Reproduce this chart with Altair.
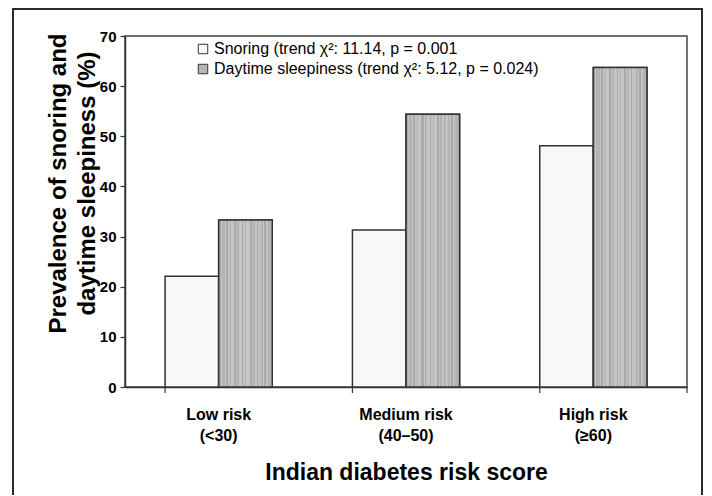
import altair as alt
import pandas as pd

# ---- data ----
categories = ["Low risk\n(<30)", "Medium risk\n(40–50)", "High risk\n(≥60)"]
series_names = [
    "Snoring (trend χ²: 11.14, p = 0.001",
    "Daytime sleepiness (trend χ²: 5.12, p = 0.024)",
]
snoring = [22.1, 31.3, 48.1]
daytime = [33.3, 54.4, 63.7]
y_ticks = [0, 10, 20, 30, 40, 50, 60, 70]

rows = []
for c, s, d in zip(categories, snoring, daytime):
    rows.append({"category": c, "series": series_names[0], "value": s})
    rows.append({"category": c, "series": series_names[1], "value": d})
df = pd.DataFrame(rows)

# ---- style ----
FONT = "Liberation Sans"
DARK = "#333333"
W, H = 562, 351

# vertical stripe pattern emulated by a hard-stop horizontal gradient
stripe_widths = [2, 1, 3, 1, 2, 2, 1, 3, 2, 1, 2, 3, 1, 2, 1, 3, 2, 1, 2, 2, 1, 3, 2, 1, 2, 2, 3, 1]
stripe_cols = ["#a9a9a9", "#c3c3c3", "#b4b4b4", "#c6c6c6"]
total = float(sum(stripe_widths))
stops = []
pos = 0.0
for i, w in enumerate(stripe_widths):
    col = stripe_cols[i % len(stripe_cols)]
    stops.append({"offset": pos / total, "color": col})
    pos += w
    stops.append({"offset": pos / total, "color": col})
stripe_fill = {"gradient": "linear", "x1": 0, "y1": 0, "x2": 1, "y2": 0, "stops": stops}

x_enc = alt.X(
    "category:N",
    sort=categories,
    scale=alt.Scale(paddingInner=0.428, paddingOuter=0.214),
    axis=alt.Axis(
        title="Indian diabetes risk score",
        labelExpr="split(datum.label, '\\n')",
        labelAngle=0,
        labelFont=FONT,
        labelFontSize=16,
        labelFontWeight="bold",
        labelLineHeight=21,
        labelColor="black",
        labelPadding=19,
        labelBaseline="top",
        ticks=False,
        domainColor=DARK,
        domainWidth=1.5,
        titleFont=FONT,
        titleFontSize=23,
        titleFontWeight="bold",
        titleColor="black",
        titleBaseline="middle",
        titleY=85,
    ),
)
xoff = alt.XOffset("series:N", sort=series_names, scale=alt.Scale(paddingInner=0, paddingOuter=0))
y_enc = alt.Y(
    "value:Q",
    scale=alt.Scale(domain=[0, 70], nice=False),
    axis=alt.Axis(
        values=y_ticks,
        grid=False,
        title=["Prevalence of snoring and", "daytime sleepiness (%)"],
        labelFont=FONT,
        labelFontSize=15,
        labelFontWeight="bold",
        labelColor="black",
        labelPadding=4,
        tickSize=5,
        tickColor=DARK,
        tickWidth=1.2,
        domainColor=DARK,
        domainWidth=1.5,
        titleFont=FONT,
        titleFontSize=24,
        titleFontWeight="bold",
        titleColor="black",
        titleLineHeight=29,
        titleX=-55,
        titleY=147,
    ),
)

bars = alt.Chart(df).mark_bar(stroke=DARK, strokeWidth=1.5).encode(
    x=x_enc,
    xOffset=xoff,
    y=y_enc,
    fill=alt.Fill(
        "series:N",
        sort=series_names,
        scale=alt.Scale(domain=series_names, range=["#f8f8f8", "#b4b4b4"]),
        legend=alt.Legend(
            title=None,
            orient="none",
            legendX=70,
            legendY=5,
            labelFont=FONT,
            labelFontSize=16,
            labelColor="black",
            labelLimit=500,
            symbolType="square",
            symbolSize=90,
            symbolStrokeColor=DARK,
            symbolStrokeWidth=1,
            symbolOpacity=1,
            rowPadding=4,
            labelOffset=3,
        ),
    ),
)

stripes = alt.Chart(df).transform_filter(
    alt.datum.series == series_names[1]
).mark_bar(fill=stripe_fill, stroke=DARK, strokeWidth=1.5).encode(
    x=alt.X("category:N", sort=categories),
    xOffset=alt.XOffset("series:N", sort=series_names),
    y="value:Q",
)

xticks = alt.Chart(pd.DataFrame({"category": categories})).mark_rule(
    color=DARK, strokeWidth=1.2
).encode(
    x=alt.X("category:N", sort=categories, bandPosition=0),
    y=alt.value(H),
    y2=alt.value(H + 6),
)
end_tick = alt.Chart(pd.DataFrame({"a": [0]})).mark_rule(color=DARK, strokeWidth=1.2).encode(
    x=alt.value(W), y=alt.value(H), y2=alt.value(H + 6)
)

frame = alt.Chart(pd.DataFrame({"a": [0]})).mark_rect(
    fillOpacity=0, stroke="#2b2b2b", strokeWidth=2
).encode(
    x=alt.value(-112), x2=alt.value(577), y=alt.value(-27), y2=alt.value(H + 130)
)

chart = alt.layer(bars, stripes, xticks, end_tick, frame).properties(
    width=W,
    height=H,
    autosize=alt.AutoSizeParams(type="none"),
    padding={"left": 117, "top": 28, "right": 17, "bottom": 108},
    background="white",
).configure_view(stroke="#444444", strokeWidth=1.5)

chart.save("out.html", embed_options={"renderer": "svg", "actions": False})
